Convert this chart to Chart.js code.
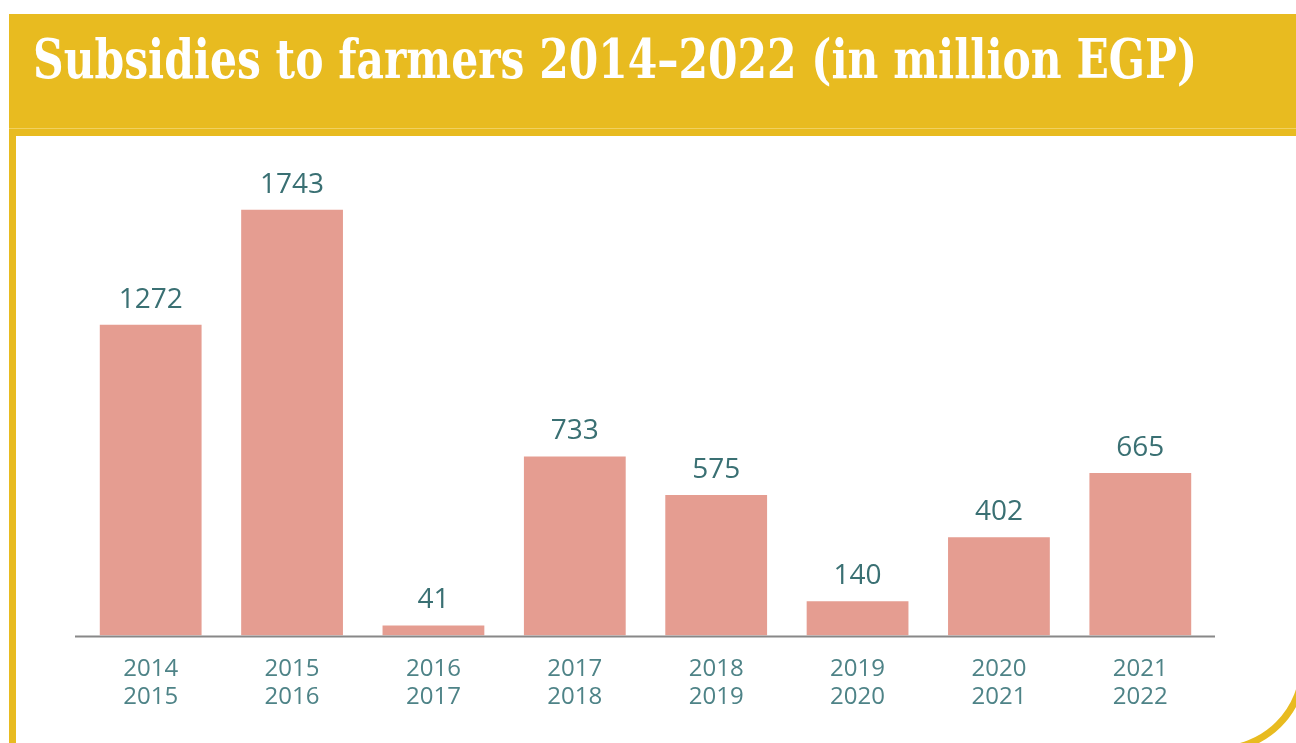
<!DOCTYPE html>
<html>
<head>
<meta charset="utf-8">
<script src="https://cdn.jsdelivr.net/npm/chart.js@4"></script>
<style>
  html, body { margin: 0; padding: 0; background: #fff; overflow: hidden; }
  body { width: 1296px; height: 743px; position: relative; }
  #frame {
    position: absolute; left: 9px; top: 14px; width: 1298px; height: 739px;
    box-sizing: border-box; border: 7px solid #E8BB20; border-radius: 0 0 89px 0;
  }
  #band {
    position: absolute; left: 9px; top: 14px; width: 1287px; height: 122px;
    background: #E8BB20;
  }
  #band .rule { position: absolute; left: 0; right: 0; top: 114px; height: 1px; background: #F1D160; }
  #title {
    position: absolute; left: 33px; top: 26px; white-space: nowrap;
    font-family: "DejaVu Serif Condensed", "DejaVu Serif", serif; font-stretch: condensed;
    font-weight: bold; font-size: 55px;
    color: #fff; transform-origin: 0 0;
  }
  #wrap { position: absolute; left: 17px; top: 136px; width: 1279px; height: 607px; }
</style>
</head>
<body>
<div id="frame"></div>
<div id="band"><div class="rule"></div></div>
<div id="title">Subsidies to farmers 2014–2022 (in million EGP)</div>
<div id="wrap"><canvas id="myChart"></canvas></div>
<script>
// 年度ラベル
var years = [
  ['2014', '2015'], ['2015', '2016'], ['2016', '2017'], ['2017', '2018'],
  ['2018', '2019'], ['2019', '2020'], ['2020', '2021'], ['2021', '2022']
];
// 補助金 (百万EGP)
var subsidies = [1272, 1743, 41, 733, 575, 140, 402, 665];

// タイトル幅を合わせる
var title = document.getElementById('title');
var w = title.getBoundingClientRect().width;
title.style.transform = 'scaleX(' + (1164 / w) + ')';

// 棒の上に値を書く + 軸線
var valueLabels = {
  id: 'valueLabels',
  afterDatasetsDraw: function (chart) {
    var c = chart.ctx;
    var a = chart.chartArea;
    var meta = chart.getDatasetMeta(0);
    c.save();
    c.strokeStyle = '#888888';
    c.lineWidth = 2;
    c.beginPath();
    c.moveTo(a.left - 5, a.bottom + 1);
    c.lineTo(a.right + 4, a.bottom + 1);
    c.stroke();
    c.font = '28px "Open Sans"';
    c.fillStyle = '#3A7073';
    c.textAlign = 'center';
    c.textBaseline = 'alphabetic';
    meta.data.forEach(function (bar, i) {
      c.fillText(subsidies[i], bar.x, bar.y - 17);
    });
    c.restore();
  }
};

var ctx = document.getElementById('myChart');
var myChart = new Chart(ctx, {
  type: 'bar',
  data: {
    labels: years,
    datasets: [{
      data: subsidies,
      backgroundColor: '#E59D91',
      barPercentage: 0.72,
      categoryPercentage: 1
    }]
  },
  options: {
    responsive: true,
    maintainAspectRatio: false,
    animation: false,
    layout: { padding: { left: 63, right: 85, top: 11, bottom: 12 } },
    plugins: {
      legend: { display: false },
      tooltip: { enabled: false }
    },
    scales: {
      x: {
        grid: { display: false, drawTicks: false },
        border: { display: false },
        ticks: {
          color: '#4E8387',
          font: { family: 'Open Sans', size: 24 },
          padding: 19,
          maxRotation: 0
        }
      },
      y: {
        display: false,
        min: 0,
        max: 2000
      }
    }
  },
  plugins: [valueLabels]
});
</script>
</body>
</html>
